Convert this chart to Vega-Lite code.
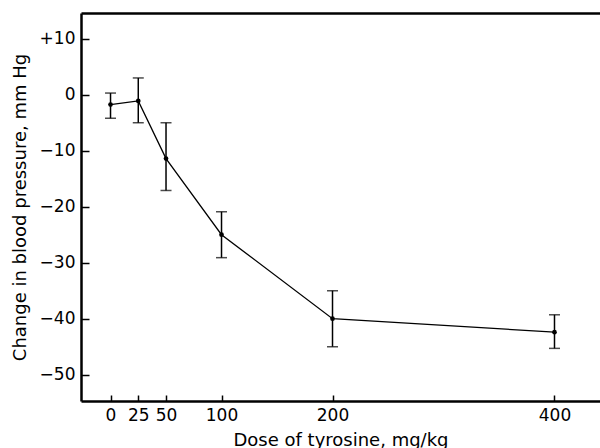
{
  "$schema": "https://vega.github.io/schema/vega-lite/v6.json",
  "width": 519,
  "height": 388,
  "autosize": {"type": "none"},
  "padding": {"left": 81, "top": 13, "right": 0, "bottom": 47},
  "background": "white",
  "config": {
    "view": {"stroke": null},
    "font": "DejaVu Sans",
    "axis": {"grid": false, "domainColor": "black", "tickColor": "black", "labelColor": "black", "titleColor": "black", "labelFont": "DejaVu Sans", "titleFont": "DejaVu Sans", "titleFontWeight": "normal"}
  },
  "data": {
    "values": [
      {"dose": 0, "val": -1.75, "lo": -4.2, "hi": 0.3},
      {"dose": 25, "val": -1.1, "lo": -5.0, "hi": 3.0},
      {"dose": 50, "val": -11.4, "lo": -17.1, "hi": -5.0},
      {"dose": 100, "val": -25.0, "lo": -29.1, "hi": -20.9},
      {"dose": 200, "val": -40.0, "lo": -45.0, "hi": -35.0},
      {"dose": 400, "val": -42.4, "lo": -45.3, "hi": -39.3}
    ]
  },
  "resolve": {"axis": {"x": "independent", "y": "independent"}},
  "layer": [
    {
      "mark": {"type": "rule", "color": "black", "strokeWidth": 1.5},
      "encoding": {
        "x": {"field": "dose", "type": "quantitative", "scale": {"domain": [-26.6, 441], "nice": false, "zero": false}, "axis": null},
        "y": {"field": "lo", "type": "quantitative", "scale": {"domain": [-54.7, 14.6], "nice": false, "zero": false}, "axis": null},
        "y2": {"field": "hi"}
      }
    },
    {
      "mark": {"type": "tick", "color": "black", "orient": "horizontal", "size": 11, "thickness": 1.5},
      "encoding": {
        "x": {"field": "dose", "type": "quantitative", "axis": null},
        "y": {"field": "lo", "type": "quantitative", "axis": null}
      }
    },
    {
      "mark": {"type": "tick", "color": "black", "orient": "horizontal", "size": 11, "thickness": 1.5},
      "encoding": {
        "x": {"field": "dose", "type": "quantitative", "axis": null},
        "y": {"field": "hi", "type": "quantitative", "axis": null}
      }
    },
    {
      "mark": {"type": "line", "color": "black", "strokeWidth": 1.3},
      "encoding": {
        "x": {"field": "dose", "type": "quantitative", "axis": null},
        "y": {"field": "val", "type": "quantitative", "axis": null}
      }
    },
    {
      "mark": {"type": "point", "filled": true, "color": "black", "opacity": 1, "size": 22},
      "encoding": {
        "x": {
          "field": "dose", "type": "quantitative",
          "axis": {
            "orient": "bottom", "values": [0, 25, 50, 100, 200, 400],
            "title": "Dose of tyrosine, mg/kg", "titleFontSize": 18, "titlePadding": 8,
            "labelFontSize": 17, "labelPadding": 12, "labelFlush": false, "labelOverlap": false,
            "tickSize": -6, "tickWidth": 1.5, "domainWidth": 2.5
          }
        },
        "y": {
          "field": "val", "type": "quantitative",
          "axis": {
            "orient": "left", "values": [-50, -40, -30, -20, -10, 0, 10],
            "labelExpr": "datum.value > 0 ? '+' + datum.value : (datum.value < 0 ? '−' + abs(datum.value) : '0')",
            "title": "Change in blood pressure, mm Hg", "titleFontSize": 18, "titlePadding": 10,
            "labelFontSize": 17, "labelPadding": 14, "labelFlush": false, "labelOverlap": false,
            "tickSize": -8, "tickWidth": 1.5, "domainWidth": 2.5
          }
        }
      }
    },
    {
      "mark": {"type": "point", "opacity": 0},
      "encoding": {
        "x": {
          "field": "dose", "type": "quantitative",
          "axis": {"orient": "top", "labels": false, "ticks": false, "title": null, "domainWidth": 2.5}
        },
        "y": {"field": "val", "type": "quantitative", "axis": null}
      }
    }
  ]
}
